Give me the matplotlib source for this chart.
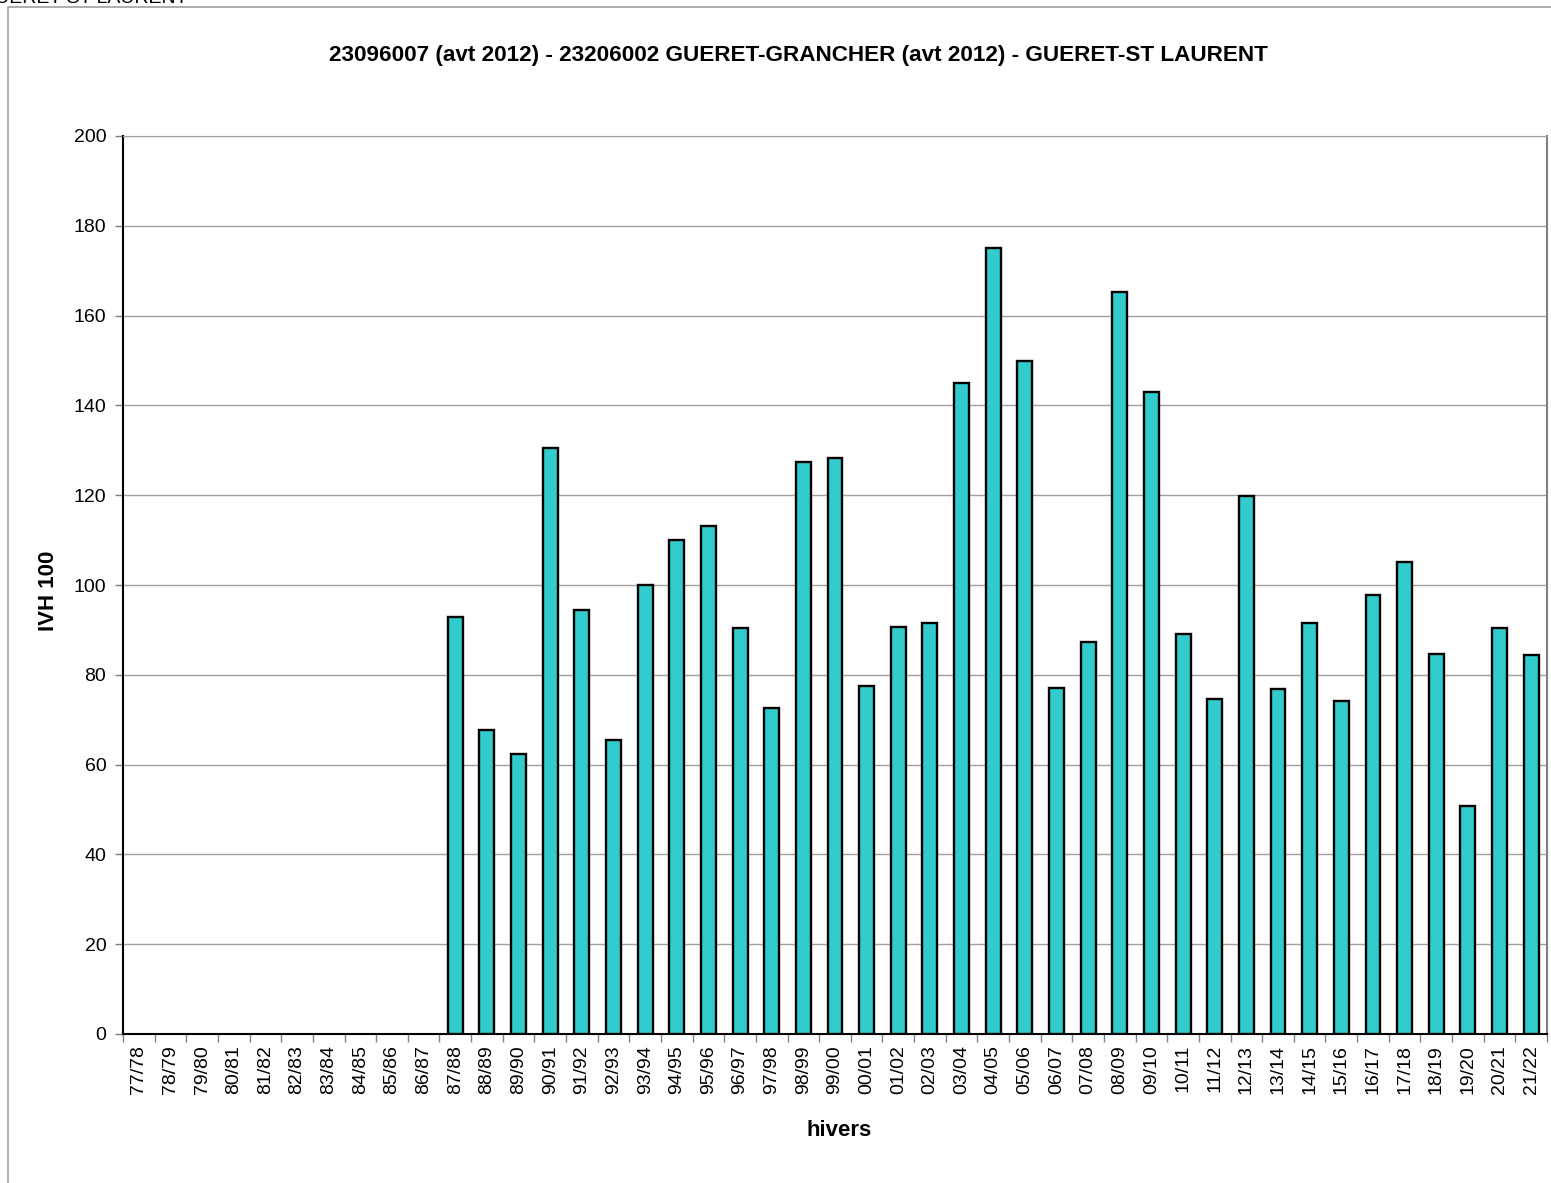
import numpy as np
import matplotlib
matplotlib.use("Agg")
import matplotlib.pyplot as plt
from matplotlib.patches import Rectangle

plt.rcParams['font.family'] = ['Liberation Sans', 'DejaVu Sans']

# hivers 77/78 -> 21/22
hivers = ['77/78', '78/79', '79/80', '80/81', '81/82', '82/83', '83/84', '84/85',
          '85/86', '86/87', '87/88', '88/89', '89/90', '90/91', '91/92', '92/93',
          '93/94', '94/95', '95/96', '96/97', '97/98', '98/99', '99/00', '00/01',
          '01/02', '02/03', '03/04', '04/05', '05/06', '06/07', '07/08', '08/09',
          '09/10', '10/11', '11/12', '12/13', '13/14', '14/15', '15/16', '16/17',
          '17/18', '18/19', '19/20', '20/21', '21/22']
# pas de données avant 87/88
ivh100 = [np.nan] * 10 + [
    92.9, 67.7, 62.4, 130.5, 94.4, 65.5, 100.0, 110.0, 113.1, 90.4,
    72.6, 127.4, 128.3, 77.5, 90.6, 91.5, 145.0, 175.0, 149.9, 77.1,
    87.3, 165.3, 143.0, 89.1, 74.6, 119.8, 76.8, 91.5, 74.2, 97.8,
    105.1, 84.6, 50.8, 90.4, 84.4]

titre = "23096007 (avt 2012) - 23206002 GUERET-GRANCHER (avt 2012) - GUERET-ST LAURENT"

W, H = 1551, 1183
fig = plt.figure(figsize=(W / 100, H / 100), dpi=100)

# cadre gris du graphique
fig.patches.append(Rectangle((8 / W, -0.2), 1.2, 1.2 - 7 / H, transform=fig.transFigure,
                             fill=False, edgecolor='#a0a0a0', linewidth=1.2))
fig.text(-20 / W, 1 + 10 / H, "GUERET-ST LAURENT", fontsize=14, ha='left', va='top')

ax = fig.add_axes([123 / W, (H - 1034) / H, (1547 - 123) / W, (1034 - 136) / H])

x = np.arange(len(hivers))
vals = np.array(ivh100, dtype=float)
ok = ~np.isnan(vals)
ax.bar(x[ok], vals[ok], width=0.47, color='#33CCCC', edgecolor='black',
       linewidth=1.7, zorder=3)

ax.set_xlim(-0.5, len(hivers) - 0.5)
ax.set_ylim(0, 200)
ax.set_yticks(np.arange(0, 201, 20))
ax.yaxis.grid(True, color='#a0a0a0', linewidth=1.0, zorder=0)
ax.set_axisbelow(True)

ax.set_xticks(x)
ax.set_xticklabels(hivers, rotation=90, fontsize=14)
ax.set_xticks(np.arange(-0.5, len(hivers), 1), minor=True)
ax.tick_params(axis='x', which='major', length=0, pad=8)
ax.tick_params(axis='x', which='minor', length=6, color='#808080', width=1)
ax.tick_params(axis='y', labelsize=14, length=6, color='#808080', width=1, pad=6)

ax.spines['left'].set_color('black')
ax.spines['left'].set_linewidth(1.5)
ax.spines['bottom'].set_color('black')
ax.spines['bottom'].set_linewidth(1.5)
ax.spines['top'].set_color('#a0a0a0')
ax.spines['right'].set_color('#808080')
ax.spines['right'].set_linewidth(1.5)

fig.text(798 / W, 1 - 55 / H, titre, fontsize=16.2, fontweight='bold', ha='center', va='center')
fig.text(48 / W, 1 - 591 / H, "IVH 100", fontsize=16, fontweight='bold', rotation=90,
         ha='center', va='center')
fig.text(839 / W, 1 - 1131 / H, "hivers", fontsize=16, fontweight='bold', ha='center', va='center')

fig.savefig("out.png", dpi=100)
